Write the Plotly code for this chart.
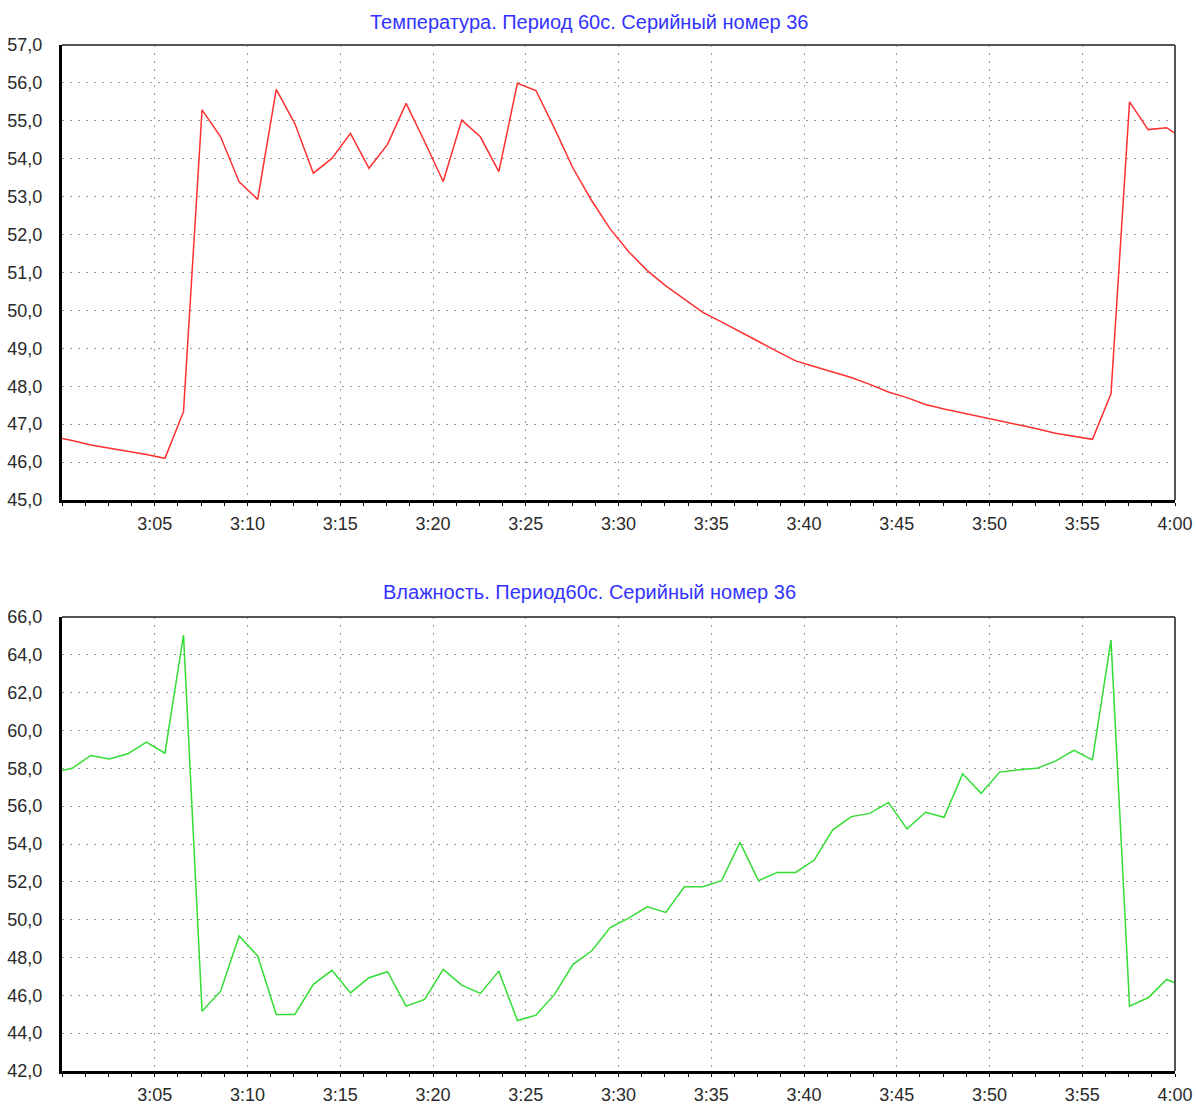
import pandas as pd
import plotly.graph_objects as go

# Logger readings, one sample every 60 s (serial no. 36)
start_time = "2000-01-01 02:59:33"
period_s = 60

temperature = [
    46.66, 46.57, 46.45, 46.37, 46.29, 46.20, 46.10, 47.33, 55.29, 54.58,
    53.39, 52.93, 55.83, 54.93, 53.62, 54.01, 54.67, 53.75, 54.38, 55.46,
    54.45, 53.40, 55.02, 54.58, 53.66, 55.99, 55.80, 54.80, 53.75, 52.90,
    52.15, 51.55, 51.05, 50.65, 50.30, 49.95, 49.70, 49.43, 49.18, 48.92,
    48.67, 48.52, 48.38, 48.23, 48.05, 47.85, 47.70, 47.52, 47.40, 47.30,
    47.20, 47.10, 46.98, 46.88, 46.76, 46.68, 46.60, 47.80, 55.50, 54.77,
    54.82, 54.49,
]

humidity = [
    57.80, 58.00, 58.68, 58.50, 58.77, 59.39, 58.80, 65.05, 45.16, 46.22,
    49.14, 48.08, 44.99, 44.99, 46.58, 47.32, 46.13, 46.93, 47.25, 45.43,
    45.78, 47.37, 46.54, 46.10, 47.28, 44.67, 44.95, 46.05, 47.64, 48.34,
    49.58, 50.08, 50.68, 50.38, 51.74, 51.74, 52.06, 54.09, 52.06, 52.50,
    52.50, 53.15, 54.75, 55.45, 55.62, 56.20, 54.80, 55.68, 55.41, 57.71,
    56.68, 57.80, 57.92, 58.00, 58.38, 58.95, 58.45, 64.78, 45.43, 45.87,
    46.84, 46.44,
]

times = pd.date_range(start=start_time, periods=len(temperature), freq=f"{period_s}s")

x_range = ["2000-01-01 03:00:00", "2000-01-01 04:00:00"]
x_ticks = [
    "2000-01-01 03:05", "2000-01-01 03:10", "2000-01-01 03:15", "2000-01-01 03:20",
    "2000-01-01 03:25", "2000-01-01 03:30", "2000-01-01 03:35", "2000-01-01 03:40",
    "2000-01-01 03:45", "2000-01-01 03:50", "2000-01-01 03:55", "2000-01-01 04:00",
]

title_temp = "Температура. Период 60с. Серийный номер 36"
title_hum = "Влажность. Период60с. Серийный номер 36"

FONT = "Liberation Sans"
TICK_FONT = dict(family=FONT, size=18, color="#2a2a2a")
GRID = dict(showgrid=True, gridcolor="#9a9a9a", gridwidth=1, griddash="2px,6px")

fig = go.Figure()
fig.add_trace(go.Scatter(x=times, y=temperature, mode="lines",
                         line=dict(color="#ff3030", width=1.5),
                         xaxis="x", yaxis="y"))
fig.add_trace(go.Scatter(x=times, y=humidity, mode="lines",
                         line=dict(color="#33dd33", width=1.5),
                         xaxis="x2", yaxis="y2"))


def x_axis(anchor):
    return dict(
        type="date", range=x_range, anchor=anchor, domain=[0, 1],
        tickvals=x_ticks, tickformat="%-H:%M", tickfont=TICK_FONT,
        ticks="outside", ticklen=3, tickcolor="#000000",
        minor=dict(dtick=75000, ticks="outside", ticklen=3, tickcolor="#000000", showgrid=False),
        showline=True, linecolor="#000000", linewidth=3, zeroline=False,
        ticklabelstandoff=2, automargin=False, **GRID,
    )


def y_axis(anchor, rng, step, domain):
    return dict(
        range=rng, dtick=step, tick0=rng[0], anchor=anchor, domain=domain,
        tickformat=".1f", tickfont=TICK_FONT, ticks="",
        showline=True, linecolor="#000000", linewidth=3, zeroline=False,
        ticklabelstandoff=13, automargin=False, **GRID,
    )


fig.update_layout(
    width=1196, height=1104,
    margin=dict(l=62, r=21, t=0, b=0, autoexpand=False),
    paper_bgcolor="white", plot_bgcolor="white",
    showlegend=False, separators=", ",
    xaxis=x_axis("y"),
    yaxis=y_axis("x", [45, 57], 1, [0.5471, 0.9592]),
    xaxis2=x_axis("y2"),
    yaxis2=y_axis("x2", [42, 66], 2, [0.0299, 0.4411]),
)

# Top and right frame edges in a lighter grey than the axis lines
for xr, yr in (("x domain", "y domain"), ("x2 domain", "y2 domain")):
    fig.add_shape(type="line", xref=xr, yref=yr, x0=0, x1=1, y0=1, y1=1,
                  line=dict(color="#555555", width=2))
    fig.add_shape(type="line", xref=xr, yref=yr, x0=1, x1=1, y0=0, y1=1,
                  line=dict(color="#555555", width=2))

for text, ypos in ((title_temp, 0.980), (title_hum, 0.4638)):
    fig.add_annotation(text=text, xref="paper", yref="paper", x=0.4735, y=ypos,
                       xanchor="center", yanchor="middle", showarrow=False,
                       font=dict(family=FONT, size=20, color="#3333ff"))

fig.write_html("out.html")
